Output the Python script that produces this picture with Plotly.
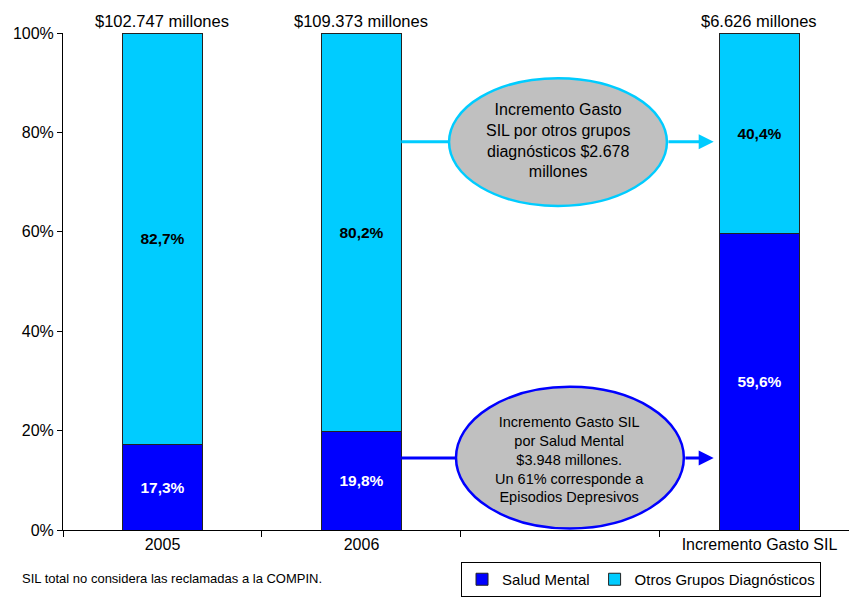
import plotly.graph_objects as go

# Category slots: two years, one empty gap, and the increment bar
posiciones = [0, 1, 3]
etiquetas = ["2005", "2006", "Incremento Gasto SIL"]
salud_mental = [17.3, 19.8, 59.6]
otros_grupos = [82.7, 80.2, 40.4]
totales = ["$102.747 millones", "$109.373 millones", "$6.626 millones"]

AZUL = "#0000FF"
CELESTE = "#00CCFF"
FONT = "Liberation Sans, Arial, sans-serif"


def fmt(v):
    return f"{v:.1f}".replace(".", ",") + "%"


fig = go.Figure()
fig.add_trace(go.Bar(
    x=posiciones, y=salud_mental, name="Salud Mental",
    marker=dict(color=AZUL, line=dict(color="#222222", width=1)),
    width=0.4, text=[fmt(v) for v in salud_mental], textposition="inside",
    insidetextanchor="middle",
    textfont=dict(color="white", size=15.5, family=FONT, weight="bold"),
    hoverinfo="skip",
))
fig.add_trace(go.Bar(
    x=posiciones, y=otros_grupos, name="Otros Grupos Diagnósticos",
    marker=dict(color=CELESTE, line=dict(color="#222222", width=1)),
    width=0.4, text=[fmt(v) for v in otros_grupos], textposition="inside",
    insidetextanchor="middle",
    textfont=dict(color="black", size=15.5, family=FONT, weight="bold"),
    hoverinfo="skip",
))

# Totals above each bar
for xp, t in zip(posiciones, totales):
    fig.add_annotation(x=xp, y=100, xref="x", yref="y", text=t, showarrow=False,
                       yanchor="bottom", yshift=1,
                       font=dict(size=16.5, family=FONT, color="black"))

# Callout ellipses
fig.add_shape(type="circle", xref="x", yref="y", x0=1.44, x1=2.535, y0=65.2, y1=90.9,
              fillcolor="#C0C0C0", line=dict(color=CELESTE, width=2.5), layer="above")
fig.add_shape(type="circle", xref="x", yref="y", x0=1.475, x1=2.62, y0=0.3, y1=28.8,
              fillcolor="#C0C0C0", line=dict(color=AZUL, width=2.5), layer="above")

# Arrow stems from the 2006 bar to the ellipses
fig.add_shape(type="line", xref="x", yref="y", x0=1.2, x1=1.44, y0=78.1, y1=78.1,
              line=dict(color=CELESTE, width=3), layer="above")
fig.add_shape(type="line", xref="x", yref="y", x0=1.2, x1=1.475, y0=14.5, y1=14.5,
              line=dict(color=AZUL, width=3), layer="above")

# Arrowheads from ellipses to the increment bar
fig.add_annotation(x=2.77, y=78.1, ax=2.535, ay=78.1, xref="x", yref="y", axref="x", ayref="y",
                   showarrow=True, arrowhead=2, arrowsize=1, arrowwidth=3, arrowcolor=CELESTE, text="")
fig.add_annotation(x=2.77, y=14.5, ax=2.62, ay=14.5, xref="x", yref="y", axref="x", ayref="y",
                   showarrow=True, arrowhead=2, arrowsize=1, arrowwidth=3, arrowcolor=AZUL, text="")

# Ellipse texts
fig.add_annotation(x=1.99, y=78.4, xref="x", yref="y", showarrow=False,
                   text="Incremento Gasto<br>SIL por otros grupos<br>diagnósticos $2.678<br>millones",
                   font=dict(size=16, family=FONT, color="black"))
fig.add_annotation(x=2.045, y=14.2, xref="x", yref="y", showarrow=False,
                   text="Incremento Gasto SIL<br>por Salud Mental<br>$3.948 millones.<br>Un 61% corresponde a<br>Episodios Depresivos",
                   font=dict(size=14.5, family=FONT, color="black"))

# Footnote
fig.add_annotation(x=-0.0547, y=-0.097, xref="paper", yref="paper", showarrow=False,
                   xanchor="left", yanchor="middle",
                   text="SIL total no considera las reclamadas a la COMPIN.",
                   font=dict(size=13, family=FONT, color="black"))

rango_x = [-0.5, 3.45]
fig.update_layout(
    width=849, height=597,
    margin=dict(l=63, r=0, t=33, b=67),
    barmode="stack", bargap=0.6,
    plot_bgcolor="white", paper_bgcolor="white",
    font=dict(family=FONT, size=16, color="black"),
    showlegend=True,
    legend=dict(orientation="h", traceorder="normal", x=0.5064, xanchor="left",
                y=-0.1348, yanchor="bottom",
                bordercolor="black", borderwidth=1, font=dict(size=15, family=FONT),
                itemwidth=30, tracegroupgap=0),
    xaxis=dict(range=rango_x, tickmode="array", tickvals=posiciones, ticktext=etiquetas,
               showline=True, linecolor="black", linewidth=1, ticks="", showgrid=False,
               zeroline=False, tickfont=dict(size=16, family=FONT)),
    xaxis2=dict(range=rango_x, overlaying="x", side="bottom", anchor="y",
                tickmode="array", tickvals=[-0.5, 0.5, 1.5, 2.5], showticklabels=False,
                ticks="outside", ticklen=6, tickcolor="black", showgrid=False,
                showline=False, zeroline=False),
    yaxis=dict(range=[0, 100], tickmode="array", tickvals=[0, 20, 40, 60, 80, 100],
               ticktext=["0%", "20%", "40%", "60%", "80%", "100%"],
               showline=True, linecolor="black", linewidth=1, ticks="outside",
               ticklen=5, tickcolor="black", showgrid=False, zeroline=False,
               tickfont=dict(size=16, family=FONT)),
)
# Dummy trace to activate the secondary axis carrying the between-category ticks
fig.add_trace(go.Scatter(x=[None], y=[None], xaxis="x2", showlegend=False, hoverinfo="skip"))

fig.write_html("out.html")
